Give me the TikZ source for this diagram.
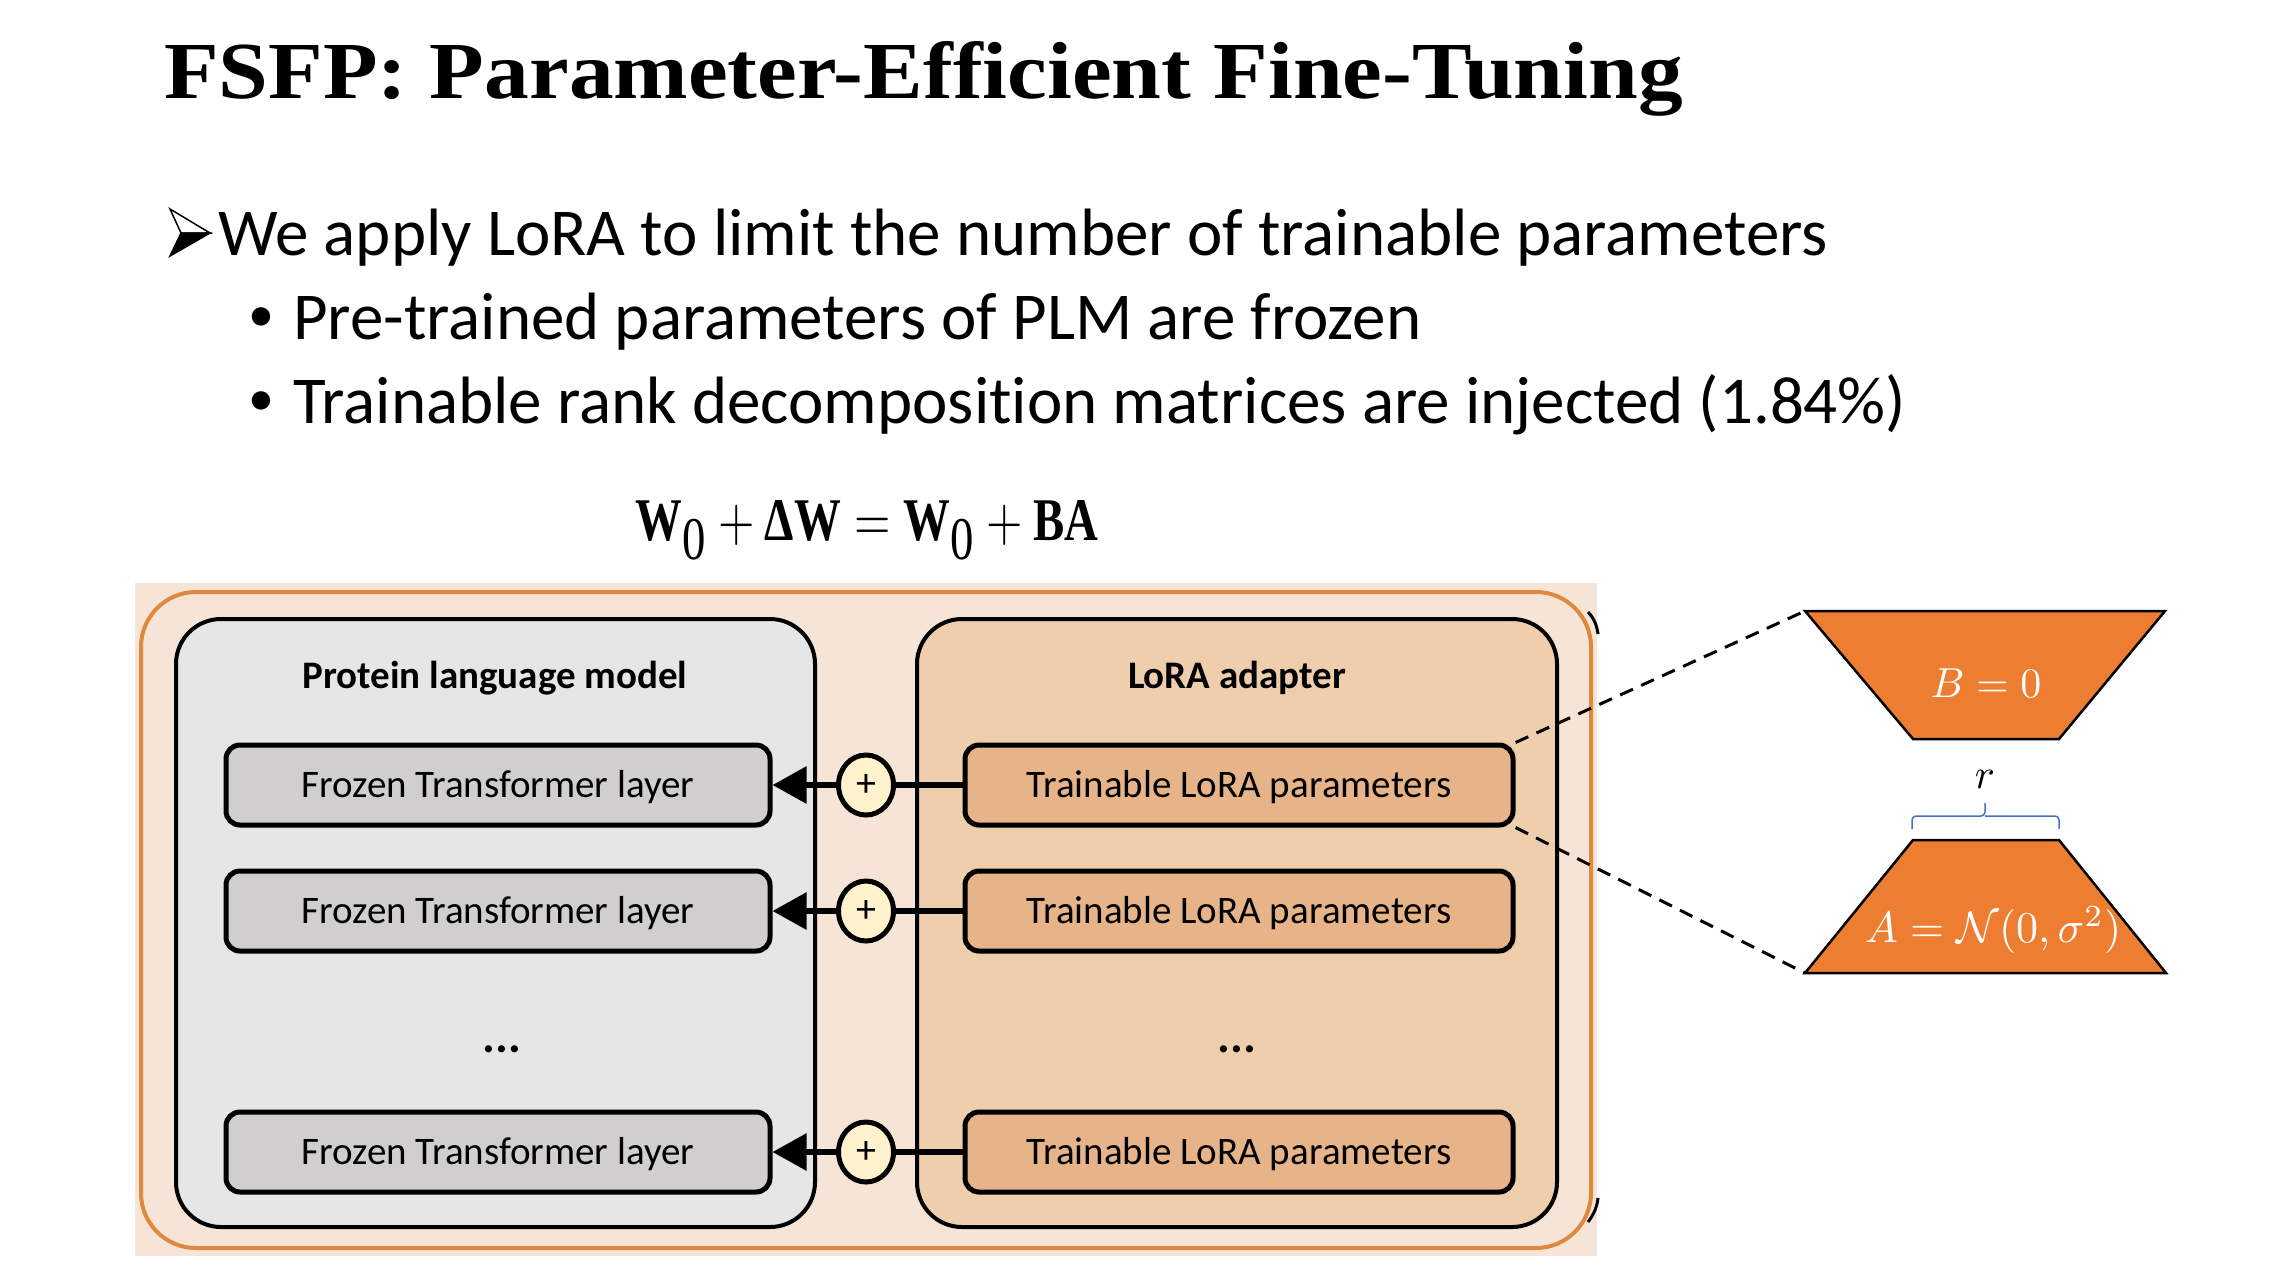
\documentclass[tikz,border=0pt]{standalone}
\usepackage[no-math]{fontspec}
\setmainfont{Carlito}[Ligatures=NoCommon]
\newfontfamily\titlefont{Liberation Serif}
\usetikzlibrary{arrows.meta,shapes.geometric}
\definecolor{bgpeach}{RGB}{246,229,214}
\definecolor{borderorange}{RGB}{224,136,62}
\definecolor{plmgray}{RGB}{230,230,230}
\definecolor{lorapeach}{RGB}{239,206,174}
\definecolor{frozengray}{RGB}{208,206,206}
\definecolor{trainpeach}{RGB}{230,180,136}
\definecolor{plusfill}{RGB}{255,242,204}
\definecolor{traporange}{RGB}{237,125,49}
\definecolor{braceblue}{RGB}{68,114,196}
\newcommand\bfser[1]{\mbox{\titlefont\bfseries #1}}
\tikzset{
  panel/.style={draw=black, line width=4pt, rounded corners=45pt, inner sep=0pt},
  paneltitle/.style={anchor=base, inner sep=0pt, font=\bfseries\fontsize{39}{46}\selectfont},
  layerbox/.style={draw=black, line width=5pt, rounded corners=14pt, minimum width=544pt,
    minimum height=80pt, inner sep=0pt, text height=25pt, text depth=0pt,
    font=\fontsize{39}{46}\selectfont},
  plusnode/.style={ellipse, draw=black, line width=5pt, fill=plusfill, minimum width=55pt,
    minimum height=60pt, inner sep=0pt, font=\fontsize{40}{48}\selectfont},
  conn/.style={line width=6pt},
  dashconn/.style={line width=3pt, dash pattern=on 14pt off 9pt},
  trap/.style={fill=traporange, draw=black, line width=2.5pt, line join=miter},
  bullettext/.style={anchor=base west, inner sep=0pt, font=\fontsize{67}{80}\selectfont},
  bulletdot/.style={inner sep=0pt, font=\fontsize{52}{60}\selectfont},
  dots/.style={inner sep=0pt, font=\bfseries\fontsize{48}{52}\selectfont},
  mathwhite/.style={text=white, inner sep=0pt},
}
\begin{document}
\begin{tikzpicture}[x=1pt,y=-1pt]
\useasboundingbox (0,0) rectangle (2274,1278);
\fill[white] (0,0) rectangle (2274,1278);

% title
\node[anchor=base west, inner sep=0pt] (title) at (164,98)
  {\resizebox{1518pt}{57pt}{\titlefont\bfseries FSFP: Parameter-Efficient Fine-Tuning}};

% arrow bullet
\coordinate (aTL) at (170,209);
\coordinate (aTip) at (210,233);
\coordinate (aBL) at (170,256);
\coordinate (aN) at (181,233);
\filldraw[fill=white, draw=black, line width=1.5pt, line join=miter] (aTL) -- (aTip) -- (aN) -- cycle;
\filldraw[fill=black, draw=black, line width=1.5pt, line join=miter] (aN) -- (aTip) -- (aBL) -- cycle;
\node[bullettext] (l1) at (218,255) {We apply LoRA to limit the number of trainable parameters};
\node[bulletdot] (b1dot) at (261,320) {•};
\node[bullettext] (b1) at (293,339) {Pre-trained parameters of PLM are frozen};
\node[bulletdot] (b2dot) at (261,404) {•};
\node[bullettext] (b2) at (293,423) {Trainable rank decomposition matrices are injected (1.84\%)};

% formula
\node[anchor=base west, inner sep=0pt] (eq) at (635,540)
  {\resizebox{463pt}{40pt}{$\bfser{W}_{\mbox{\titlefont 0}}+\bfser{ΔW}=\bfser{W}_{\mbox{\titlefont 0}}+\bfser{BA}$}};

% background and frame
\fill[bgpeach] (135,583) rectangle (1597,1256);
\draw[borderorange, line width=4pt, rounded corners=55pt] (141,592) rectangle (1591,1248);
\draw[line width=3pt] (1588,612) .. controls (1594,618) and (1597,626) .. (1598,634);
\draw[line width=3pt] (1598,1198) .. controls (1597,1207) and (1594,1214) .. (1588,1222);

% panels
\node[panel, fill=plmgray, minimum width=639pt, minimum height=608pt] (plm) at (495.5,923) {};
\node[panel, fill=lorapeach, minimum width=640pt, minimum height=608pt] (lora) at (1237,923) {};
\node[paneltitle] (plmt) at (495,688) {Protein language model};
\node[paneltitle] (lorat) at (1237,688) {LoRA adapter};

% layers
\node[layerbox, fill=frozengray] (f1) at (498,785) {Frozen Transformer layer};
\node[layerbox, fill=frozengray] (f2) at (498,911) {Frozen Transformer layer};
\node[layerbox, fill=frozengray] (f3) at (498,1152) {Frozen Transformer layer};
\node[layerbox, fill=trainpeach, minimum width=548pt] (t1) at (1239,785) {Trainable LoRA parameters};
\node[layerbox, fill=trainpeach, minimum width=548pt] (t2) at (1239,911) {Trainable LoRA parameters};
\node[layerbox, fill=trainpeach, minimum width=548pt] (t3) at (1239,1152) {Trainable LoRA parameters};

\node[dots] (d1) at (502,1049) {...};
\node[dots] (d2) at (1237,1049) {...};

% plus nodes and connectors
\foreach \i/\y in {1/785,2/911,3/1152}{
  \node[plusnode] (p\i) at (866,\y) {+};
  \draw[conn] (t\i.west) -- (p\i.east);
  \draw[conn, -{Triangle[length=34pt,width=36pt]}] (p\i.west) -- (f\i.east);
}

% trapezoids
\coordinate (B1) at (1805,611);
\coordinate (B2) at (2165,611);
\coordinate (B3) at (2059,739);
\coordinate (B4) at (1913,739);
\coordinate (A1) at (1913,840);
\coordinate (A2) at (2059,840);
\coordinate (A3) at (2166,973);
\coordinate (A4) at (1805,973);
\draw[trap] (B1) -- (B2) -- (B3) -- (B4) -- cycle;
\draw[trap] (A1) -- (A2) -- (A3) -- (A4) -- cycle;
\node[mathwhite, anchor=base] (btext) at (1986,697) {\scalebox{4.2}{$B=0$}};
\node[mathwhite, anchor=base] (atext) at (1993,942) {\scalebox{4.4}{$A=\mathcal{N}(0,\sigma^2)$}};
\node[inner sep=0pt, anchor=base] (rtext) at (1985,788) {\scalebox{4.2}{$r$}};
\draw[braceblue, line width=1.5pt, rounded corners=4pt] (1912,829) -- (1912,816) -- (1985,816) -- (1985,803);
\draw[braceblue, line width=1.5pt, rounded corners=4pt] (2059,829) -- (2059,816) -- (1985,816);

% dashed zoom lines
\draw[dashconn] (t1.north east) -- (B1);
\draw[dashconn] (t1.south east) -- (A4);
\end{tikzpicture}
\end{document}
